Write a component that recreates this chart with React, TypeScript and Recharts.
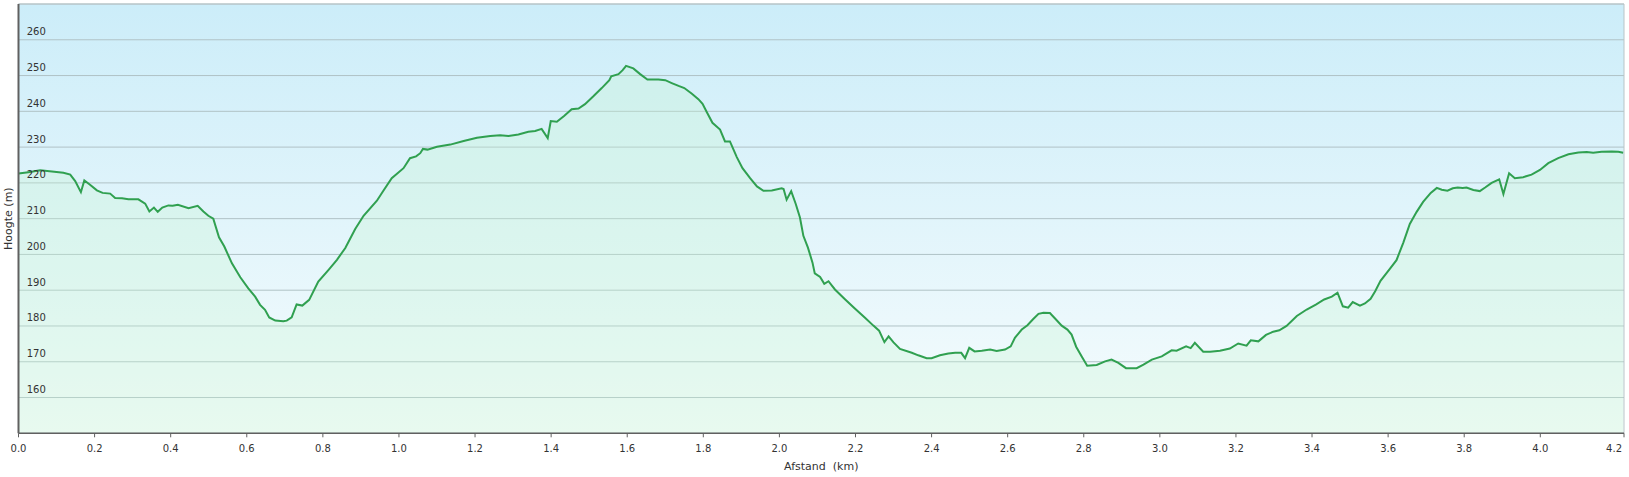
import { AreaChart, Area, XAxis, YAxis, CartesianGrid, ReferenceLine } from 'recharts';

// afstand (km)
const distance = [
  0.0, 0.026, 0.057, 0.088, 0.118, 0.136, 0.149, 0.164, 0.173, 0.188, 0.206, 0.221, 0.241, 0.254, 0.272,
  0.289, 0.315, 0.333, 0.344, 0.356, 0.366, 0.378, 0.394, 0.405, 0.419, 0.447, 0.471, 0.486, 0.499, 0.512,
  0.527, 0.541, 0.561, 0.583, 0.604, 0.622, 0.635, 0.648, 0.659, 0.675, 0.696, 0.705, 0.718, 0.731, 0.746,
  0.764, 0.788, 0.815, 0.837, 0.859, 0.885, 0.907, 0.942, 0.959, 0.981, 1.012, 1.029, 1.045, 1.056, 1.063,
  1.075, 1.1, 1.135, 1.17, 1.205, 1.24, 1.266, 1.288, 1.314, 1.34, 1.358, 1.375, 1.391, 1.399, 1.415,
  1.434, 1.454, 1.472, 1.489, 1.511, 1.533, 1.553, 1.558, 1.577, 1.588, 1.597, 1.616, 1.634, 1.653, 1.682,
  1.7, 1.717, 1.735, 1.75, 1.77, 1.787, 1.798, 1.809, 1.824, 1.844, 1.857, 1.87, 1.888, 1.903, 1.923,
  1.941, 1.958, 1.98, 2.006, 2.011, 2.019, 2.031, 2.043, 2.054, 2.063, 2.075, 2.087, 2.093, 2.107, 2.118,
  2.129, 2.146, 2.173, 2.199, 2.225, 2.247, 2.262, 2.276, 2.287, 2.3, 2.317, 2.348, 2.365, 2.387, 2.4,
  2.422, 2.444, 2.462, 2.478, 2.488, 2.499, 2.513, 2.532, 2.554, 2.571, 2.593, 2.608, 2.619, 2.637, 2.652,
  2.666, 2.681, 2.694, 2.711, 2.727, 2.742, 2.757, 2.768, 2.78, 2.795, 2.809, 2.834, 2.856, 2.873, 2.891,
  2.911, 2.939, 2.957, 2.979, 3.005, 3.031, 3.044, 3.069, 3.081, 3.092, 3.114, 3.132, 3.158, 3.184, 3.206,
  3.228, 3.239, 3.259, 3.279, 3.298, 3.314, 3.333, 3.36, 3.386, 3.41, 3.432, 3.452, 3.467, 3.481, 3.495,
  3.507, 3.526, 3.539, 3.554, 3.566, 3.58, 3.605, 3.622, 3.64, 3.657, 3.675, 3.692, 3.712, 3.728, 3.741,
  3.756, 3.77, 3.783, 3.796, 3.806, 3.824, 3.841, 3.855, 3.872, 3.892, 3.903, 3.918, 3.933, 3.955, 3.977,
  3.999, 4.021, 4.047, 4.074, 4.1, 4.122, 4.139, 4.161, 4.188, 4.205, 4.218,
];

// hoogte (m)
const elevation = [
  222.6, 223.0, 223.5, 223.2, 222.8, 222.3, 220.5, 217.4, 220.7, 219.5, 217.9, 217.2, 217.0, 215.8, 215.7,
  215.4, 215.4, 214.2, 212.0, 213.1, 211.9, 213.1, 213.7, 213.6, 213.9, 212.9, 213.6, 212.0, 210.8, 210.0,
  204.8, 202.2, 197.5, 193.6, 190.5, 188.2, 185.9, 184.5, 182.4, 181.5, 181.3, 181.5, 182.4, 186.0, 185.7,
  187.3, 192.4, 195.7, 198.5, 201.8, 207.1, 210.8, 215.0, 217.8, 221.3, 224.1, 226.9, 227.4, 228.3, 229.5,
  229.3, 230.1, 230.7, 231.7, 232.6, 233.1, 233.3, 233.1, 233.5, 234.3, 234.5, 235.1, 232.5, 237.3, 237.1,
  238.7, 240.6, 240.8, 242.0, 244.2, 246.5, 248.7, 249.8, 250.4, 251.5, 252.7, 252.0, 250.4, 248.9, 248.9,
  248.7, 247.9, 247.1, 246.5, 244.9, 243.4, 242.1, 239.8, 236.8, 234.9, 231.6, 231.6, 227.2, 224.1, 221.3,
  219.0, 217.8, 217.9, 218.5, 218.3, 215.3, 217.7, 214.1, 210.3, 205.2, 201.9, 197.7, 194.7, 193.7, 191.8,
  192.5, 190.2, 187.4, 184.8, 182.3, 180.1, 178.7, 175.5, 177.1, 175.4, 173.6, 172.5, 171.8, 171.0, 171.0,
  171.8, 172.3, 172.5, 172.5, 171.0, 173.9, 172.9, 173.1, 173.4, 173.0, 173.4, 174.3, 176.7, 179.0, 180.2,
  181.8, 183.4, 183.7, 183.6, 181.8, 180.1, 179.0, 177.6, 174.2, 171.4, 168.9, 169.1, 170.1, 170.6, 169.7,
  168.2, 168.2, 169.2, 170.6, 171.5, 173.2, 173.1, 174.3, 173.8, 175.3, 172.8, 172.8, 173.1, 173.7, 175.1,
  174.5, 176.0, 175.7, 177.5, 178.4, 178.8, 180.0, 182.8, 184.6, 186.0, 187.4, 188.2, 189.3, 185.5, 185.1,
  186.7, 185.7, 186.3, 187.6, 189.7, 192.6, 196.0, 198.4, 203.3, 208.5, 211.9, 214.7, 217.2, 218.6, 218.1,
  217.8, 218.5, 218.7, 218.6, 218.7, 218.0, 217.7, 218.7, 220.0, 221.0, 216.9, 222.7, 221.3, 221.6, 222.3,
  223.6, 225.5, 226.9, 228.0, 228.5, 228.6, 228.4, 228.7, 228.8, 228.7, 228.4,
];

const xTicks = [0, 0.2, 0.4, 0.6, 0.8, 1.0, 1.2, 1.4, 1.6, 1.8, 2.0, 2.2, 2.4, 2.6, 2.8, 3.0, 3.2, 3.4, 3.6, 3.8, 4.0, 4.22];
const yTicks = [160, 170, 180, 190, 200, 210, 220, 230, 240, 250, 260];

const data = distance.map((d, i) => ({ d, h: elevation[i] }));

const FONT = '"DejaVu Sans", Verdana, sans-serif';

const XTick = ({ x, y, payload }: any) => {
  const last = payload.value === xTicks[xTicks.length - 1];
  return (
    <text
      x={last ? x - 2 : x}
      y={y}
      dy="0.71em"
      textAnchor={last ? 'end' : 'middle'}
      fontSize={10}
      fontFamily={FONT}
      fill="#333"
    >
      {payload.value.toFixed(1)}
    </text>
  );
};

const YTick = ({ x, y, payload }: any) => (
  <text x={x + 8.2} y={y - 4.6} textAnchor="start" fontSize={10} fontFamily={FONT} fill="#333">
    {payload.value}
  </text>
);

export default function App() {
  return (
    <div style={{ position: 'absolute', left: 0, top: 0, width: 1629, height: 477, background: '#fff' }}>
      <AreaChart width={1629} height={477} data={data} margin={{ top: 4, right: 5, bottom: 0, left: 0 }}>
        <defs>
          <linearGradient id="bgGrad" x1="0" y1="0" x2="0" y2="1">
            <stop offset="0%" stopColor="#ccedf9" />
            <stop offset="100%" stopColor="#f6fcfd" />
          </linearGradient>
        </defs>
        <CartesianGrid vertical={false} stroke="#b0c2c6" fill="url(#bgGrad)" />
        <XAxis
          type="number"
          dataKey="d"
          domain={[0, 4.22]}
          ticks={xTicks}
          interval={0}
          height={43.7}
          tickSize={4}
          tickMargin={7.3}
          tick={<XTick />}
          axisLine={{ stroke: '#606060', strokeWidth: 1.5 }}
          tickLine={{ stroke: '#606060' }}
          label={{
            value: 'Afstand\u00a0 (km)',
            position: 'insideBottom',
            offset: 7.5,
            style: { fontSize: 11, fontFamily: FONT, fill: '#333' },
          }}
        />
        <YAxis
          type="number"
          domain={[150, 270]}
          ticks={yTicks}
          interval={0}
          width={18.5}
          tickSize={0}
          tickMargin={0}
          tickLine={false}
          tick={<YTick />}
          axisLine={{ stroke: '#606060', strokeWidth: 2 }}
          label={{
            value: 'Hoogte (m)',
            angle: -90,
            position: 'center',
            dx: -1,
            style: { fontSize: 11, fontFamily: FONT, fill: '#333' },
          }}
        />
        <ReferenceLine y={270} stroke="#b9c4c7" />
        <ReferenceLine x={4.22} stroke="#b9c4c7" />
        <Area
          type="linear"
          dataKey="h"
          stroke="#30a050"
          strokeWidth={2}
          fill="rgb(200,245,210)"
          fillOpacity={0.3}
          dot={false}
          activeDot={false}
          isAnimationActive={false}
        />
      </AreaChart>
    </div>
  );
}
